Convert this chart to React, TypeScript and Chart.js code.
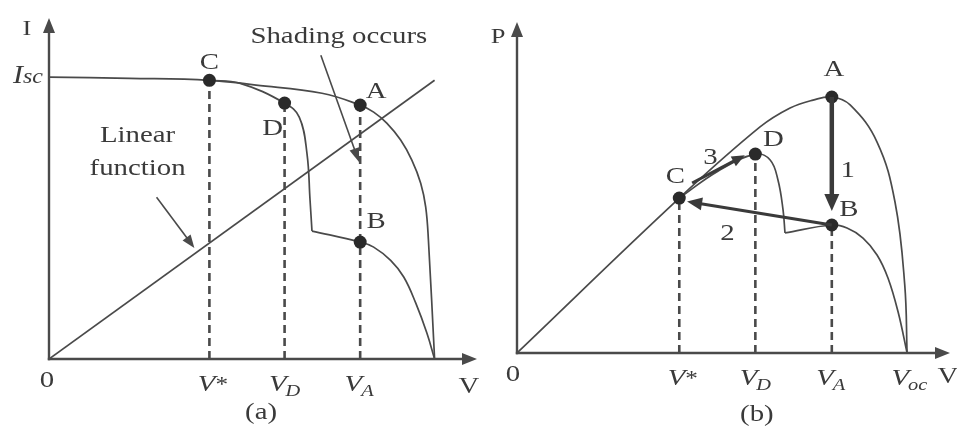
import React, { useEffect, useRef } from "react";
import { Chart, registerables } from "chart.js";

Chart.register(...registerables);

// Operating voltages, normalised so that Voc = 100
const V_STAR = 41.6;
const V_D = 61.1;
const V_A = 80.7;
const V_OC = 100;

// (a) I–V curves, current normalised so that Isc = 100
const ivUniformV = [0, 20.9, 41.6, 53.7, 70.8, 80.7, 84.2, 87.6, 91.2, 94.1, 96.4, 97.7, 98.4, 100];
const ivUniformI = [100, 99.6, 98.9, 97.2, 94.3, 90.1, 87.6, 83.7, 77.7, 70.6, 62.4, 53.9, 42.2, 0];
const ivShadedUpperV = [41.6, 49.4, 61.1, 64.9, 66.9, 67.7, 68.2];
const ivShadedUpperI = [98.9, 97.9, 90.8, 85.8, 73.0, 56.4, 45.4];
const ivShadedLowerV = [68.2, 80.7, 84.2, 88.6, 92.0, 95.1, 98.0, 100];
const ivShadedLowerI = [45.4, 41.5, 39.7, 35.0, 29.1, 19.9, 9.2, 0];
const ivLinearV = [0, 100];
const ivLinearI = [0, 98.9];
const ivMarkerNames = ["A", "B", "C", "D"];
const ivMarkerV = [V_A, V_A, V_STAR, V_D];
const ivMarkerI = [90.1, 41.5, 98.9, 90.8];
const shadingArrowV = [70.5, 80.4];
const shadingArrowI = [107.8, 69.9];
const linearArrowV = [27.9, 37.7];
const linearArrowI = [57.4, 39.4];

// (b) P–V curves, power normalised so that the global maximum = 100
const pvUniformV = [0, 41.6, 62.3, 70.0, 75.9, 80.7, 85.4, 92.3, 96.9, 99.4, 100];
const pvUniformP = [0, 60.5, 88.3, 95.7, 98.8, 100, 96.9, 82.4, 59.0, 26.6, 0];
const pvShadedUpperV = [41.6, 51.5, 61.1, 64.9, 66.9, 68.2, 68.7];
const pvShadedUpperP = [60.5, 71.0, 77.7, 75.4, 67.6, 55.9, 46.9];
const pvShadedLowerV = [68.7, 80.7, 84.6, 88.7, 92.3, 95.1, 97.7, 100];
const pvShadedLowerP = [46.9, 50.0, 48.8, 44.9, 38.3, 29.3, 16.0, 0];
const pvMarkerNames = ["A", "B", "C", "D"];
const pvMarkerV = [V_A, V_A, V_STAR, V_D];
const pvMarkerP = [100, 50.0, 60.5, 77.7];
const step1V = [80.7, 80.7];
const step1P = [100, 55.5];
const step2V = [80.7, 43.6];
const step2P = [50.0, 59.2];
const step3V = [44.9, 58.4];
const step3P = [66.4, 77.2];

const FONT = '"Liberation Serif", "Times New Roman", Times, serif';
const INK = "#3a3a3a";
const LINE = "#4a4a4a";
const DOT = "#2a2a2a";
const STRETCH = 1.2;
const SIZE = 24;

const pts = (xs: number[], ys: number[]) => xs.map((x, i) => ({ x, y: ys[i] }));

type TextOpts = { italic?: boolean; align?: CanvasTextAlign; baseline?: CanvasTextBaseline };

function drawText(ctx: CanvasRenderingContext2D, s: string, x: number, y: number, size: number, o: TextOpts = {}) {
  ctx.save();
  ctx.font = `${o.italic ? "italic " : ""}${size}px ${FONT}`;
  ctx.fillStyle = INK;
  ctx.textAlign = o.align ?? "center";
  ctx.textBaseline = o.baseline ?? "middle";
  ctx.translate(x, y);
  ctx.scale(STRETCH, 1);
  ctx.fillText(s, 0, 0);
  ctx.restore();
}

function drawArrow(
  ctx: CanvasRenderingContext2D,
  x1: number, y1: number, x2: number, y2: number,
  width: number, headLen: number, headHalf: number, color = LINE
) {
  const dx = x2 - x1;
  const dy = y2 - y1;
  const len = Math.hypot(dx, dy);
  const ux = dx / len;
  const uy = dy / len;
  const bx = x2 - ux * headLen;
  const by = y2 - uy * headLen;
  ctx.save();
  ctx.strokeStyle = color;
  ctx.fillStyle = color;
  ctx.lineWidth = width;
  ctx.beginPath();
  ctx.moveTo(x1, y1);
  ctx.lineTo(bx + ux, by + uy);
  ctx.stroke();
  ctx.beginPath();
  ctx.moveTo(x2, y2);
  ctx.lineTo(bx - uy * headHalf, by + ux * headHalf);
  ctx.lineTo(bx + uy * headHalf, by - ux * headHalf);
  ctx.closePath();
  ctx.fill();
  ctx.restore();
}

function drawAxes(chart: any) {
  const { ctx, scales } = chart;
  const x = scales.x;
  const y = scales.y;
  const x0 = x.getPixelForValue(0);
  const y0 = y.getPixelForValue(0);
  drawArrow(ctx, x0 - 1.2, y0, x.getPixelForValue(x.max), y0, 2.4, 15, 6);
  drawArrow(ctx, x0, y0 + 1.2, x0, y.getPixelForValue(y.max), 2.4, 15, 6);
}

// Voltage tick label: italic V with subscript or asterisk
function voltTick(ctx: CanvasRenderingContext2D, px: number, axisY: number, sub: string | null) {
  if (sub === null) {
    drawText(ctx, "V", px + 6, axisY + 32, SIZE, { italic: true, align: "right", baseline: "alphabetic" });
    drawText(ctx, "*", px + 6, axisY + 32, 21, { align: "left", baseline: "alphabetic" });
  } else {
    drawText(ctx, "V", px + 2, axisY + 32, SIZE, { italic: true, align: "right", baseline: "alphabetic" });
    drawText(ctx, sub, px + 1, axisY + 37, 17, { italic: true, align: "left", baseline: "alphabetic" });
  }
}

const curve = (data: { x: number; y: number }[]) => ({
  type: "line" as const,
  data,
  borderColor: LINE,
  borderWidth: 1.7,
  pointRadius: 0,
  fill: false,
  tension: 0.4,
  order: 2,
});

const dashed = (v: number, top: number) => ({
  type: "line" as const,
  data: [{ x: v, y: 0 }, { x: v, y: top }],
  borderColor: LINE,
  borderWidth: 2.6,
  borderDash: [8, 5],
  pointRadius: 0,
  fill: false,
  order: 3,
});

const markers = (xs: number[], ys: number[]) => ({
  type: "line" as const,
  data: pts(xs, ys),
  showLine: false,
  pointRadius: 6.5,
  pointBackgroundColor: DOT,
  pointBorderWidth: 0,
  order: 0,
});

const baseOptions = (xMax: number, yMax: number, padding: any) => ({
  animation: false as const,
  responsive: false,
  maintainAspectRatio: false,
  events: [] as any[],
  layout: { padding, autoPadding: false },
  plugins: { legend: { display: false }, tooltip: { enabled: false } },
  scales: {
    x: { type: "linear" as const, min: 0, max: xMax, display: false },
    y: { type: "linear" as const, min: 0, max: yMax, display: false },
  },
});

function ivConfig(): any {
  const decor = {
    id: "ivDecor",
    afterDatasetsDraw(chart: any) {
      const { ctx, scales } = chart;
      const X = (v: number) => scales.x.getPixelForValue(v);
      const Y = (v: number) => scales.y.getPixelForValue(v);
      drawAxes(chart);

      drawArrow(ctx, X(shadingArrowV[0]), Y(shadingArrowI[0]), X(shadingArrowV[1]), Y(shadingArrowI[1]), 1.6, 14, 5);
      drawArrow(ctx, X(linearArrowV[0]), Y(linearArrowI[0]), X(linearArrowV[1]), Y(linearArrowI[1]), 1.6, 13, 5);

      const offs: Record<string, [number, number]> = { A: [16, -13], B: [16, -20], C: [0, -18], D: [-12, 26] };
      ivMarkerNames.forEach((n, i) => {
        const [dx, dy] = offs[n];
        drawText(ctx, n, X(ivMarkerV[i]) + dx, Y(ivMarkerI[i]) + dy, SIZE);
      });

      const sx = X(shadingArrowV[0]);
      const sy = Y(shadingArrowI[0]);
      drawText(ctx, "Shading occurs", sx + 18, sy - 18, SIZE);
      const lx = X(linearArrowV[0]);
      const ly = Y(linearArrowI[0]);
      drawText(ctx, "Linear", lx - 19, ly - 62, SIZE);
      drawText(ctx, "function", lx - 19, ly - 29, SIZE);

      const x0 = X(0);
      const y0 = Y(0);
      drawText(ctx, "I", x0 - 22, Y(scales.y.max) + 11, 22);
      drawText(ctx, "I", x0 - 26, Y(100) + 6, 25, { italic: true, align: "right", baseline: "alphabetic" });
      drawText(ctx, "sc", x0 - 26, Y(100) + 6, 20, { italic: true, align: "left", baseline: "alphabetic" });

      drawText(ctx, "0", x0 - 2, y0 + 22, SIZE);
      voltTick(ctx, X(V_STAR), y0, null);
      voltTick(ctx, X(V_D), y0, "D");
      voltTick(ctx, X(V_A), y0, "A");
      drawText(ctx, "V", X(scales.x.max) - 8, y0 + 34, SIZE, { baseline: "alphabetic" });
      drawText(ctx, "(a)", X(55), y0 + 54, SIZE);
    },
  };

  return {
    type: "line",
    data: {
      datasets: [
        markers(ivMarkerV, ivMarkerI),
        curve(pts(ivUniformV, ivUniformI)),
        curve(pts(ivShadedUpperV, ivShadedUpperI)),
        curve(pts(ivShadedLowerV, ivShadedLowerI)),
        { ...curve(pts(ivLinearV, ivLinearI)), tension: 0 },
        dashed(V_STAR, ivMarkerI[2]),
        dashed(V_D, ivMarkerI[3]),
        dashed(V_A, ivMarkerI[0]),
      ],
    },
    options: baseOptions(111, 121, { left: 49, right: 3, top: 18, bottom: 75 }),
    plugins: [decor],
  };
}

function pvConfig(): any {
  const decor = {
    id: "pvDecor",
    afterDatasetsDraw(chart: any) {
      const { ctx, scales } = chart;
      const X = (v: number) => scales.x.getPixelForValue(v);
      const Y = (v: number) => scales.y.getPixelForValue(v);
      drawAxes(chart);

      drawArrow(ctx, X(step1V[0]), Y(step1P[0]), X(step1V[1]), Y(step1P[1]), 4.5, 17, 7.5, "#3a3a3a");
      drawArrow(ctx, X(step2V[0]), Y(step2P[0]), X(step2V[1]), Y(step2P[1]), 3, 15, 6.5, "#3a3a3a");
      drawArrow(ctx, X(step3V[0]), Y(step3P[0]), X(step3V[1]), Y(step3P[1]), 3, 13, 5.5, "#3a3a3a");

      const mid = (vs: number[], ps: number[]) => [(X(vs[0]) + X(vs[1])) / 2, (Y(ps[0]) + Y(ps[1])) / 2];
      const m1 = mid(step1V, step1P);
      const m2 = mid(step2V, step2P);
      const m3 = mid(step3V, step3P);
      drawText(ctx, "1", m1[0] + 16, m1[1] + 17, SIZE);
      drawText(ctx, "2", m2[0] - 32, m2[1] + 20, SIZE);
      drawText(ctx, "3", m3[0] - 8, m3[1] - 11, SIZE);

      const offs: Record<string, [number, number]> = { A: [2, -27], B: [17, -15], C: [-4, -21], D: [18, -14] };
      pvMarkerNames.forEach((n, i) => {
        const [dx, dy] = offs[n];
        drawText(ctx, n, X(pvMarkerV[i]) + dx, Y(pvMarkerP[i]) + dy, SIZE);
      });

      const x0 = X(0);
      const y0 = Y(0);
      drawText(ctx, "P", x0 - 19, Y(scales.y.max) + 15, 22);
      drawText(ctx, "0", x0 - 4, y0 + 22, SIZE);
      voltTick(ctx, X(V_STAR), y0, null);
      voltTick(ctx, X(V_D), y0, "D");
      voltTick(ctx, X(V_A), y0, "A");
      voltTick(ctx, X(V_OC), y0, "oc");
      drawText(ctx, "V", X(scales.x.max) - 2, y0 + 30, SIZE, { baseline: "alphabetic" });
      drawText(ctx, "(b)", X(61.5), y0 + 62, SIZE);
    },
  };

  return {
    type: "line",
    data: {
      datasets: [
        markers(pvMarkerV, pvMarkerP),
        curve(pts(pvUniformV, pvUniformP)),
        curve(pts(pvShadedUpperV, pvShadedUpperP)),
        curve(pts(pvShadedLowerV, pvShadedLowerP)),
        dashed(V_STAR, pvMarkerP[2]),
        dashed(V_D, pvMarkerP[3]),
        dashed(V_A, pvMarkerP[1]),
      ],
    },
    options: baseOptions(111, 129.3, { left: 37, right: 7, top: 22, bottom: 81 }),
    plugins: [decor],
  };
}

function Panel({ build, left, width }: { build: () => any; left: number; width: number }) {
  const ref = useRef<HTMLCanvasElement>(null);
  useEffect(() => {
    const chart = new Chart(ref.current as HTMLCanvasElement, build());
    return () => chart.destroy();
  }, [build]);
  return (
    <canvas
      ref={ref}
      width={width}
      height={434}
      style={{ position: "absolute", left, top: 0, width, height: 434, display: "block" }}
    />
  );
}

export default function App() {
  return (
    <div style={{ position: "fixed", left: 0, top: 0, width: 957, height: 434, background: "#fff", overflow: "hidden" }}>
      <Panel build={ivConfig} left={0} width={480} />
      <Panel build={pvConfig} left={480} width={477} />
    </div>
  );
}
